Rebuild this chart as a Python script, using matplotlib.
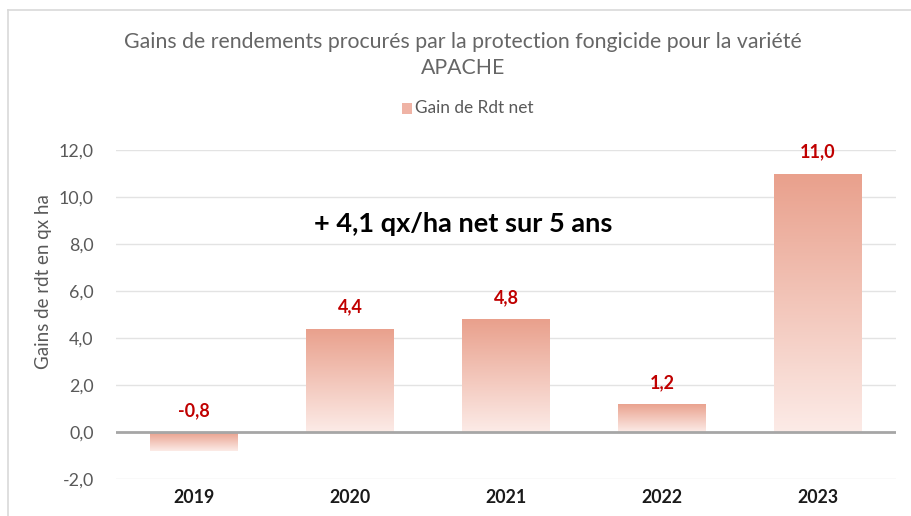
import matplotlib
matplotlib.use("Agg")
import matplotlib.pyplot as plt
import numpy as np
from matplotlib.patches import Rectangle
from matplotlib.colors import LinearSegmentedColormap
from matplotlib.lines import Line2D

years = ["2019", "2020", "2021", "2022", "2023"]
gains = [-0.8, 4.4, 4.8, 1.2, 11.0]
labels = ["-0,8", "4,4", "4,8", "1,2", "11,0"]
yticks = [-2, 0, 2, 4, 6, 8, 10, 12]
ytick_labels = ["-2,0", "0,0", "2,0", "4,0", "6,0", "8,0", "10,0", "12,0"]

plt.rcParams['font.family'] = ['Lato', 'DejaVu Sans']

W, H = 912, 516
fig = plt.figure(figsize=(W/100, H/100), dpi=100)
ax = fig.add_axes([116/W, 1-479/H, 780/W, 329/H])

cmap = LinearSegmentedColormap.from_list("g", ["#FCEBE7", "#E9A08C"])
grad = np.linspace(0, 1, 256).reshape(-1, 1)
bw = 0.56
x = np.arange(len(years))
for xi, v in zip(x, gains):
    lo, hi = min(0, v), max(0, v)
    rect = Rectangle((xi - bw/2, lo), bw, hi - lo, facecolor="none", edgecolor="none")
    ax.add_patch(rect)
    im = ax.imshow(grad, extent=(xi - bw/2, xi + bw/2, lo, hi), origin="lower",
                   cmap=cmap, aspect="auto", zorder=2)
    im.set_clip_path(rect)

for xi, v, lab in zip(x, gains, labels):
    ax.annotate(lab, (xi, max(v, 0)), xytext=(0, 15.5), textcoords="offset points",
                ha="center", va="center", color="#C00000", fontweight="bold", fontsize=13)

ax.set_xlim(-0.5, 4.5)
ax.set_ylim(-2, 12)
ax.set_yticks(yticks)
ax.set_yticklabels(ytick_labels, color="#595959", fontsize=12.8)
ax.set_xticks(x)
ax.set_xticklabels(years, fontweight="bold", fontsize=12.8, color="#1a1a1a")
ax.tick_params(axis="both", length=0)
ax.tick_params(axis="y", pad=16)
ax.tick_params(axis="x", pad=7)
for s in ax.spines.values():
    s.set_visible(False)
ax.grid(axis="y", color="#E3E3E3", linewidth=1, zorder=0)
ax.set_axisbelow(True)
ax.axhline(0, color="#A6A6A6", linewidth=2, zorder=3)

fig.text(44/W, 1-282/H, "Gains de rdt en qx ha", rotation=90, ha="center", va="center",
         color="#595959", fontsize=13.5)

fig.text(463/W, 1-42/H, "Gains de rendements procurés par la protection fongicide pour la variété",
         ha="center", va="center", color="#666666", fontsize=15.3)
fig.text(463/W, 1-68/H, "APACHE", ha="center", va="center", color="#666666", fontsize=15.3)

# legend
fig.patches.append(Rectangle((402/W, 1-114/H), 10/W, 11/H, transform=fig.transFigure,
                             facecolor="#EFB3A5", edgecolor="none"))
fig.text(415/W, 1-108/H, "Gain de Rdt net", ha="left", va="center", color="#595959", fontsize=12.4)

fig.text(463/W, 1-224/H, "+ 4,1 qx/ha net sur 5 ans", ha="center", va="center",
         color="black", fontweight="bold", fontsize=19.5)

# chart border
fig.add_artist(Line2D([8/W, 8/W], [0, 1-10/H], transform=fig.transFigure, color="#D9D9D9", linewidth=1.2))
fig.add_artist(Line2D([8/W, 1], [1-10/H, 1-10/H], transform=fig.transFigure, color="#D9D9D9", linewidth=1.2))

fig.savefig("out.png", dpi=100)
